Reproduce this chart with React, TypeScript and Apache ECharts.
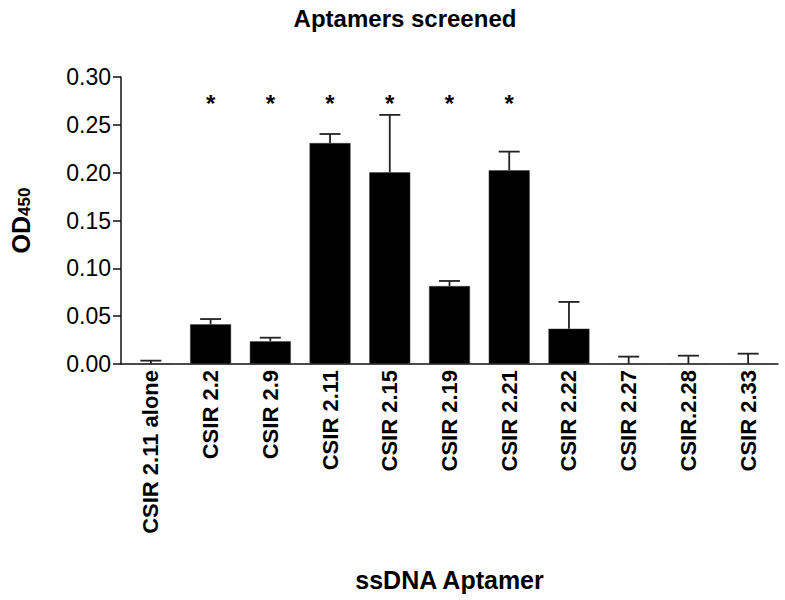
import React, { useEffect, useRef } from "react";
import * as echarts from "echarts";

const categories = [
  "CSIR 2.11 alone",
  "CSIR 2.2",
  "CSIR 2.9",
  "CSIR 2.11",
  "CSIR 2.15",
  "CSIR 2.19",
  "CSIR 2.21",
  "CSIR 2.22",
  "CSIR 2.27",
  "CSIR.2.28",
  "CSIR 2.33",
];
const means = [0.0, 0.0415, 0.0237, 0.231, 0.2004, 0.0815, 0.2025, 0.0369, 0.0, 0.0, 0.0];
const errors = [0.0035, 0.0055, 0.0038, 0.0094, 0.06, 0.0053, 0.0195, 0.028, 0.0077, 0.0087, 0.0108];
const significant = [false, true, true, true, true, true, true, false, false, false, false];
const starLevel = 0.272;
const yTicks = { min: 0, max: 0.3, interval: 0.05 };

const FONT = "Arial, 'Liberation Sans', Helvetica, sans-serif";

export default function App() {
  const ref = useRef<HTMLDivElement>(null);
  useEffect(() => {
    if (!ref.current) return;
    const chart = echarts.init(ref.current, undefined, { renderer: "svg" });
    const errData = categories.map((_, i) => [i, means[i], errors[i]]);
    const starData = categories
      .map((_, i) => (significant[i] ? [i, starLevel] : null))
      .filter((d) => d !== null);
    chart.setOption({
      animation: false,
      backgroundColor: "#fff",
      title: {
        text: "Aptamers screened",
        left: 400,
        textAlign: "center",
        top: 1,
        textStyle: { fontFamily: FONT, fontSize: 24, fontWeight: "bold", color: "#000" },
      },
      grid: { left: 117, right: 7, top: 77, bottom: 236, containLabel: false },
      xAxis: {
        type: "category",
        data: categories,
        axisLine: { lineStyle: { color: "#111", width: 1.5 } },
        axisTick: { show: false },
        axisLabel: {
          interval: 0,
          rotate: 90,
          margin: 6,
          fontFamily: FONT,
          fontSize: 22,
          fontWeight: "bold",
          color: "#000",
        },
        name: "ssDNA Aptamer",
        nameLocation: "middle",
        nameGap: 203,
        nameTextStyle: { fontFamily: FONT, fontSize: 25, fontWeight: "bold", color: "#000" },
      },
      yAxis: {
        type: "value",
        min: yTicks.min,
        max: yTicks.max,
        interval: yTicks.interval,
        splitLine: { show: false },
        axisLine: { show: true, lineStyle: { color: "#111", width: 1.5 } },
        axisTick: { show: true, length: 8, lineStyle: { color: "#111", width: 1.5 } },
        axisLabel: {
          margin: 10,
          fontFamily: FONT,
          fontSize: 23,
          color: "#000",
          formatter: (v: number) => v.toFixed(2),
        },
        name: "OD{sub|450}",
        nameLocation: "middle",
        nameRotate: 90,
        nameGap: 88,
        nameTextStyle: {
          fontFamily: FONT,
          fontSize: 25,
          fontWeight: "bold",
          color: "#000",
          rich: {
            sub: {
              fontFamily: FONT,
              fontSize: 17,
              fontWeight: "bold",
              color: "#000",
              lineHeight: 15,
              verticalAlign: "bottom",
            },
          },
        },
      },
      series: [
        {
          type: "bar",
          data: means,
          barWidth: 41,
          itemStyle: { color: "#000", borderColor: "#444", borderWidth: 0.5 },
          z: 2,
        },
        {
          type: "custom",
          data: errData,
          z: 3,
          renderItem: (params: any, api: any) => {
            const x = api.value(0);
            const m = api.value(1);
            const e = api.value(2);
            const p0 = api.coord([x, m]);
            const p1 = api.coord([x, m + e]);
            const half = 10.5;
            const style = { stroke: "#222", lineWidth: 1.8 };
            return {
              type: "group",
              children: [
                { type: "line", shape: { x1: p0[0], y1: p0[1], x2: p1[0], y2: p1[1] }, style },
                { type: "line", shape: { x1: p1[0] - half, y1: p1[1], x2: p1[0] + half, y2: p1[1] }, style },
              ],
            };
          },
        },
        {
          type: "custom",
          data: starData,
          z: 4,
          renderItem: (params: any, api: any) => {
            const p = api.coord([api.value(0), api.value(1)]);
            return {
              type: "text",
              x: p[0],
              y: p[1],
              style: {
                text: "*",
                fontFamily: FONT,
                fontSize: 24,
                fontWeight: "bold",
                fill: "#000",
                align: "center",
                verticalAlign: "middle",
              },
            };
          },
        },
      ],
    });
    return () => chart.dispose();
  }, []);
  return (
    <div
      ref={ref}
      style={{ position: "absolute", left: 0, top: 0, width: 785, height: 600 }}
    />
  );
}
